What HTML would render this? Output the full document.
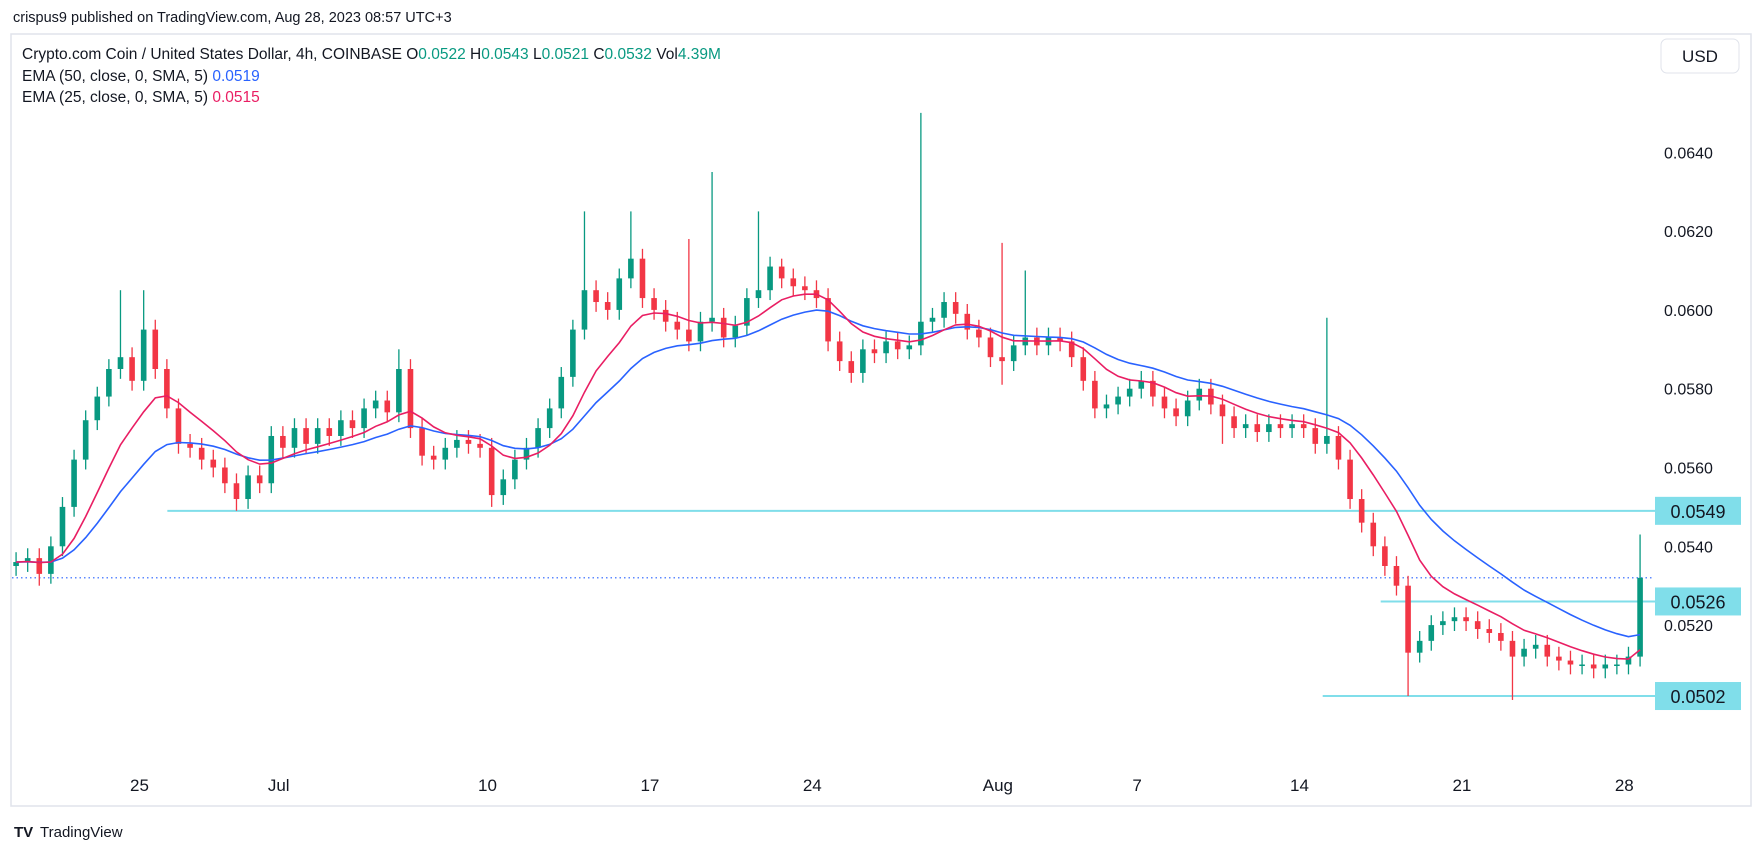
<!DOCTYPE html>
<html><head><meta charset="utf-8">
<style>
html,body{margin:0;padding:0;background:#fff;width:1754px;height:851px;overflow:hidden;font-family:"Liberation Sans",sans-serif;}
svg{display:block}
</style></head>
<body>
<svg id="chart" width="1754" height="851" viewBox="0 0 1754 851" xmlns="http://www.w3.org/2000/svg">
  <text x="13" y="22" font-size="14.5" fill="#131722">crispus9 published on TradingView.com, Aug 28, 2023 08:57 UTC+3</text>
  <rect x="11" y="34" width="1740" height="772" fill="#fff" stroke="#e0e3eb" stroke-width="1.5"/>
  <g id="grid"></g>
  <g id="levels"></g>
  <g id="candles"></g>
  <g id="emas"></g>
  <g id="yaxis"></g>
  <g id="xaxis"></g>
  <text x="22" y="59" font-size="15.5" fill="#131722">Crypto.com Coin / United States Dollar, 4h, COINBASE  <tspan>O</tspan><tspan fill="#089981">0.0522</tspan>  <tspan>H</tspan><tspan fill="#089981">0.0543</tspan>  <tspan>L</tspan><tspan fill="#089981">0.0521</tspan>  <tspan>C</tspan><tspan fill="#089981">0.0532</tspan>  <tspan>Vol</tspan><tspan fill="#089981">4.39M</tspan></text>
  <text x="22" y="81" font-size="15.5" fill="#131722">EMA (50, close, 0, SMA, 5)  <tspan fill="#2962ff">0.0519</tspan></text>
  <text x="22" y="102" font-size="15.5" fill="#131722">EMA (25, close, 0, SMA, 5)  <tspan fill="#e91e63">0.0515</tspan></text>
  <rect x="1661" y="39" width="78" height="34" rx="6" fill="#fff" stroke="#e0e3eb"/>
  <text x="1700" y="62" font-size="17" fill="#131722" text-anchor="middle">USD</text>
  <g>
    <text x="14" y="837" font-size="15" font-weight="bold" fill="#131722">TV</text>
    <text x="40" y="837" font-size="15" fill="#131722">TradingView</text>
  </g>
</svg>
<script>
// ---- data ----
const closes = [0.0536,0.0537,0.0533,0.0540,0.0550,0.0562,0.0572,0.0578,0.0585,0.0588,
0.0582,0.0595,0.0585,0.0575,0.0566,0.0565,0.0562,0.0560,0.0556,0.0552,
0.0558,0.0556,0.0568,0.0565,0.0570,0.0566,0.0570,0.0568,0.0572,0.0570,
0.0575,0.0577,0.0574,0.0585,0.0570,0.0563,0.0562,0.0565,0.0567,0.0566,
0.0565,0.0553,0.0557,0.0562,0.0565,0.0570,0.0575,0.0583,0.0595,0.0605,
0.0602,0.0600,0.0608,0.0613,0.0603,0.0600,0.0597,0.0595,0.0592,0.0597,
0.0598,0.0593,0.0596,0.0603,0.0605,0.0611,0.0608,0.0606,0.0605,0.0603,
0.0592,0.0587,0.0584,0.0590,0.0589,0.0592,0.0590,0.0591,0.0597,0.0598,
0.0602,0.0599,0.0595,0.0593,0.0588,0.0587,0.0591,0.0593,0.0591,0.0593,
0.0592,0.0588,0.0582,0.0575,0.0576,0.0578,0.0580,0.0582,0.0578,0.0575,
0.0573,0.0577,0.0580,0.0576,0.0573,0.0570,0.0571,0.0569,0.0571,0.0570,
0.0571,0.0570,0.0566,0.0568,0.0562,0.0552,0.0546,0.0540,0.0535,0.0530,
0.0513,0.0516,0.0520,0.0521,0.0522,0.0521,0.0519,0.0518,0.0516,0.0512,
0.0514,0.0515,0.0512,0.0511,0.0510,0.0510,0.0509,0.0510,0.0510,0.0512,
0.0532];
const firstOpen = 0.0535;
const highSpikeIdx = [9,11,33,49,53,58,60,64,66,78,85,87,113,140];
const highSpikeVal = [0.0605,0.0605,0.0590,0.0625,0.0625,0.0618,0.0635,0.0625,0.0613,0.0650,0.0617,0.0610,0.0598,0.0543];
const lowSpikeIdx = [2,19,41,85,104,120,129];
const lowSpikeVal = [0.0530,0.0549,0.0550,0.0581,0.0566,0.0502,0.0501];
const yTicks = [0.0640,0.0620,0.0600,0.0580,0.0560,0.0540,0.0520];
const xTickLabels = ["25","Jul","10","17","24","Aug","7","14","21","28"];
const xTickDays = [0,6,15,22,29,37,43,50,57,64]; // days after Jun 25
const levelPrices = [0.0549,0.0526,0.0502];
const levelStartDay = [1.2,53.5,51.0];
const currentPrice = 0.0532;
const startDay = -5.32; // first candle time (days after Jun 25)
const candleDays = 0.5;

// ---- scales ----
const plotRight = 1646;
function xScale(day){ return 139.5 + day*23.2; }
function yScale(p){ return 152.3 + (0.0640 - p)/0.002*78.8; }
const NS = "http://www.w3.org/2000/svg";
function mk(tag, attrs, parent){ const e=document.createElementNS(NS,tag); for(const k in attrs) e.setAttribute(k,attrs[k]); parent.appendChild(e); return e; }
const gC = document.getElementById('candles'), gE = document.getElementById('emas'),
      gY = document.getElementById('yaxis'), gX = document.getElementById('xaxis'), gL = document.getElementById('levels');

yTicks.forEach(v=>{
  const t = mk('text',{x:1664,y:yScale(v)+6,'font-size':16,fill:'#131722'},gY);
  t.textContent = v.toFixed(4);
  
  
});
xTickLabels.forEach((lab,i)=>{
  const t = mk('text',{x:xScale(xTickDays[i]),y:791,'font-size':17,fill:'#131722','text-anchor':'middle'},gX);
  t.textContent = lab;
  
  
});

levelPrices.forEach((p,i)=>{
  const y = yScale(p);
  const l = mk('line',{x1:xScale(levelStartDay[i]),x2:plotRight+10,y1:y,y2:y,stroke:'#80deea','stroke-width':2},gL);
  
  
  const r = mk('rect',{x:1655,y:y-14,width:86,height:28,fill:'#80deea'},gL);
  
  
  const t = mk('text',{x:1698,y:y+7,'font-size':18,fill:'#131722','text-anchor':'middle'},gL);
  t.textContent = p.toFixed(4);
  
  
});
{
  const y = yScale(currentPrice);
  const l = mk('line',{x1:12,x2:plotRight+8,y1:y,y2:y,stroke:'#2962ff','stroke-width':1.2,'stroke-dasharray':'1.5 3'},gL);
  
  
}

const pad = 0.00025;
closes.forEach((c,i)=>{
  const o = i===0 ? firstOpen : closes[i-1];
  let h = Math.max(o,c)+pad, lo = Math.min(o,c)-pad;
  const hi = highSpikeIdx.indexOf(i); if(hi>=0) h = highSpikeVal[hi];
  const li = lowSpikeIdx.indexOf(i); if(li>=0) lo = lowSpikeVal[li];
  const x = xScale(startDay + i*candleDays);
  const col = c>=o ? '#089981' : '#f23645';
  const w = mk('line',{x1:x,x2:x,y1:yScale(h),y2:yScale(lo),stroke:col,'stroke-width':1.3},gC);
  
  
  const yt = yScale(Math.max(o,c)), yb = yScale(Math.min(o,c));
  const b = mk('rect',{x:x-2.8,y:yt,width:5.6,height:Math.max(1.5,yb-yt),fill:col},gC);
  
  
});

function ema(arr,n){ const k=2/(n+1); const out=[]; let e=arr[0]; arr.forEach(v=>{ e = v*k + e*(1-k); out.push(e); }); return out; }
function sma(arr,n){ return arr.map((v,i)=>{ let s=0,c=0; for(let j=Math.max(0,i-n+1);j<=i;j++){s+=arr[j];c++;} return s/c; }); }
function drawLine(vals,col,name){
  const d = vals.map((v,i)=>(i?'L':'M')+xScale(startDay+i*candleDays).toFixed(1)+' '+yScale(v).toFixed(1)).join(' ');
  const p = mk('path',{d:d,fill:'none',stroke:col,'stroke-width':1.6},gE);
  
  
}
drawLine(sma(ema(closes,17),2),'#2962ff','ema50-line');
drawLine(sma(ema(closes,8),2),'#e91e63','ema25-line');
</script>
</body></html>
